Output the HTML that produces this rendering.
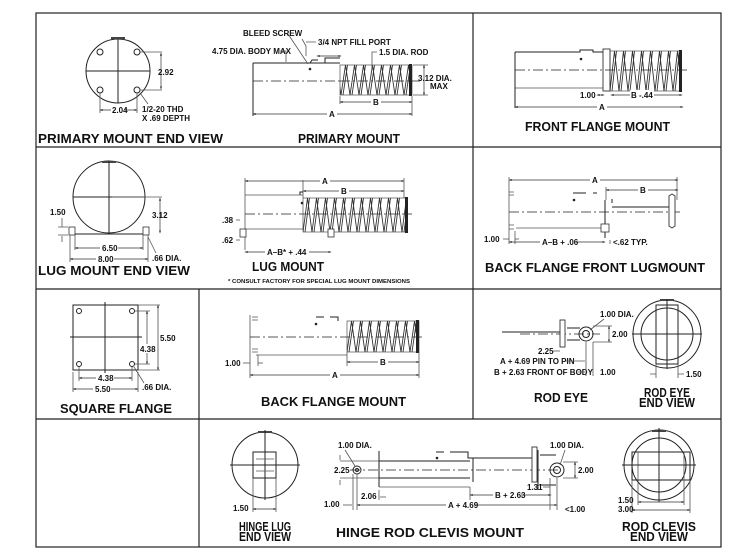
<!DOCTYPE html>
<html><head><meta charset="utf-8"><style>
html,body{margin:0;padding:0;background:#fff;}
svg{display:block;}
text{font-family:"Liberation Sans Narrow","Liberation Sans",sans-serif;font-weight:bold;fill:#111;}
.l{font-size:8px;}
.t{font-family:"Liberation Sans",sans-serif;font-size:12.5px;font-weight:900;}
.k{stroke:#222;fill:none;stroke-width:1;}
.g{stroke:#555;fill:none;stroke-width:0.8;}
.c{stroke:#222;fill:none;stroke-width:0.8;stroke-dasharray:10,3,2,3;}
.d{stroke:#333;stroke-width:0.7;fill:none;marker-start:url(#a);marker-end:url(#a);}
</style></head><body>
<svg width="738" height="560" viewBox="0 0 738 560" xmlns="http://www.w3.org/2000/svg">
<defs>
<marker id="a" viewBox="0 0 10 10" refX="5" refY="5" markerWidth="5" markerHeight="5" orient="auto-start-reverse"><path d="M0,5 L10,2 L10,8 Z" fill="#333" transform="rotate(180 5 5)"/></marker>
<pattern id="s1" patternUnits="userSpaceOnUse" x="341" y="65" width="9" height="30"><path d="M0,30 L4.5,0 L9,30 M2,30 L6.5,0" stroke="#333" stroke-width="0.9" fill="none"/></pattern>
<pattern id="s2" patternUnits="userSpaceOnUse" x="610" y="51" width="9" height="40"><path d="M0,40 L4.5,0 L9,40 M2,40 L6.5,0" stroke="#333" stroke-width="0.9" fill="none"/></pattern>
<pattern id="s3" patternUnits="userSpaceOnUse" x="303" y="198" width="9" height="34"><path d="M0,34 L4.5,0 L9,34 M2,34 L6.5,0" stroke="#333" stroke-width="0.9" fill="none"/></pattern>
<pattern id="s4" patternUnits="userSpaceOnUse" x="347" y="321" width="9" height="31"><path d="M0,31 L4.5,0 L9,31 M2,31 L6.5,0" stroke="#333" stroke-width="0.9" fill="none"/></pattern>
</defs>

<!-- grid -->
<rect x="36" y="13" width="685" height="534" fill="none" stroke="#222" stroke-width="1.2"/>
<line x1="36" y1="147" x2="721" y2="147" stroke="#222" stroke-width="1.2"/>
<line x1="36" y1="289" x2="721" y2="289" stroke="#222" stroke-width="1.2"/>
<line x1="36" y1="419" x2="721" y2="419" stroke="#222" stroke-width="1.2"/>
<line x1="473" y1="13" x2="473" y2="419" stroke="#222" stroke-width="1.2"/>
<line x1="199" y1="289" x2="199" y2="547" stroke="#222" stroke-width="1.2"/>

<!-- PRIMARY MOUNT END VIEW -->
<circle class="k" cx="118" cy="71" r="32"/>
<rect x="111" y="37" width="14" height="2" fill="#444"/>
<line class="k" x1="86" y1="71" x2="150" y2="71"/><line class="k" x1="118" y1="39" x2="118" y2="103"/>
<circle class="k" cx="100" cy="52" r="3"/><circle class="k" cx="137" cy="52" r="3"/>
<circle class="k" cx="100" cy="90" r="3"/><circle class="k" cx="137" cy="90" r="3"/>
<path class="g" d="M140,52 H162 M140,90 H162 M100,93 V113 M137,93 V113"/>
<line class="d" x1="161" y1="54" x2="161" y2="88"/>
<text class="l" x="158" y="75">2.92</text>
<line class="d" x1="101" y1="110" x2="136" y2="110"/>
<rect x="111" y="106" width="14" height="8" fill="#fff"/>
<text class="l" x="112" y="113">2.04</text>
<line class="g" x1="140" y1="93" x2="148" y2="104"/>
<text class="l" x="142" y="112">1/2-20 THD</text>
<text class="l" x="142" y="121">X .69 DEPTH</text>
<text class="t" x="38" y="143" textLength="185" lengthAdjust="spacingAndGlyphs">PRIMARY MOUNT END VIEW</text>

<!-- PRIMARY MOUNT -->
<line class="k" x1="253" y1="63" x2="340" y2="63"/>
<line class="k" x1="253" y1="63" x2="253" y2="116"/>
<line class="c" x1="253" y1="81" x2="340" y2="81"/>
<path class="k" d="M310,63 L312,60 H318 M325,63 V58 H340"/>
<circle cx="310" cy="69" r="1.3" fill="#222"/>
<rect x="340" y="65" width="72" height="30" fill="url(#s1)" stroke="#333" stroke-width="0.6"/>
<rect x="409" y="64" width="3" height="32" fill="#222"/>
<line class="c" x1="340" y1="81" x2="420" y2="81"/>
<path class="g" d="M413,65 H428 M413,95 H428 M412,96 V116 M340,96 V104"/>
<line class="d" x1="424" y1="66" x2="424" y2="94"/>
<text class="l" x="418" y="81">3.12 DIA.</text><text class="l" x="430" y="89">MAX</text>
<line class="d" x1="341" y1="102" x2="411" y2="102"/>
<rect x="371" y="97" width="10" height="9" fill="#fff"/><text class="l" x="373" y="105">B</text>
<line class="d" x1="254" y1="114" x2="411" y2="114"/>
<rect x="327" y="109" width="10" height="9" fill="#fff"/><text class="l" x="329" y="117">A</text>
<text class="l" x="243" y="36">BLEED SCREW</text>
<line class="g" x1="288" y1="34" x2="308" y2="64"/>
<path class="g" d="M302,39 L306,46 V56 M306,42 H316"/>
<text class="l" x="318" y="45">3/4 NPT FILL PORT</text>
<line class="d" x1="318" y1="56" x2="340" y2="56"/>
<text class="l" x="212" y="54">4.75 DIA. BODY MAX</text>
<path class="g" d="M280,51 H286 V62"/>
<text class="l" x="379" y="55">1.5 DIA. ROD</text>
<path class="g" d="M377,52 H372 V68"/>
<text class="t" x="298" y="143" textLength="102" lengthAdjust="spacingAndGlyphs">PRIMARY MOUNT</text>

<!-- FRONT FLANGE MOUNT -->
<path class="k" d="M515,52 H580 V50 H593 V52 H603"/>
<line class="g" x1="515" y1="88" x2="603" y2="88"/>
<line class="k" x1="515" y1="52" x2="515" y2="108"/>
<circle cx="581" cy="59" r="1.3" fill="#222"/>
<rect x="603" y="49" width="7" height="42" fill="#fff" stroke="#333" stroke-width="0.9"/>
<rect x="610" y="51" width="71" height="40" fill="url(#s2)" stroke="#333" stroke-width="0.6"/>
<rect x="679" y="50" width="3" height="42" fill="#222"/>
<line class="c" x1="515" y1="70" x2="688" y2="70"/>
<text class="l" x="580" y="98">1.00</text>
<line class="d" x1="598" y1="95" x2="603" y2="95"/>
<line class="d" x1="612" y1="95" x2="681" y2="95"/>
<rect x="630" y="90" width="24" height="9" fill="#fff"/><text class="l" x="631" y="98">B -.44</text>
<line class="d" x1="516" y1="107" x2="682" y2="107"/>
<rect x="597" y="102" width="10" height="9" fill="#fff"/><text class="l" x="599" y="110">A</text>
<text class="t" x="525" y="131" textLength="145" lengthAdjust="spacingAndGlyphs">FRONT FLANGE MOUNT</text>

<!-- LUG MOUNT END VIEW -->
<circle class="k" cx="109" cy="197" r="36"/>
<rect x="102" y="161" width="14" height="2" fill="#444"/>
<line class="k" x1="73" y1="197" x2="145" y2="197"/><line class="k" x1="109" y1="161" x2="109" y2="233"/>
<line class="k" x1="70" y1="234" x2="148" y2="234"/>
<rect x="69" y="227" width="6" height="8" fill="#fff" stroke="#333" stroke-width="0.8"/>
<rect x="143" y="227" width="6" height="8" fill="#fff" stroke="#333" stroke-width="0.8"/>
<path class="g" d="M112,197 H162 M70,235 V262 M148,235 V262 M75,235 V250 M143,235 V250 M58,227 H68 M58,235 H68"/>
<line class="d" x1="160" y1="199" x2="160" y2="232"/>
<text class="l" x="152" y="218">3.12</text>
<text class="l" x="50" y="215">1.50</text>
<line class="g" x1="62" y1="218" x2="62" y2="227"/><line class="g" x1="62" y1="236" x2="62" y2="242"/>
<line class="d" x1="76" y1="248" x2="142" y2="248"/>
<rect x="100" y="243" width="18" height="9" fill="#fff"/><text class="l" x="102" y="251">6.50</text>
<line class="d" x1="71" y1="259" x2="147" y2="259"/>
<rect x="96" y="254" width="18" height="9" fill="#fff"/><text class="l" x="98" y="262">8.00</text>
<line class="g" x1="148" y1="237" x2="156" y2="253"/>
<text class="l" x="152" y="261">.66 DIA.</text>
<text class="t" x="38" y="275" textLength="152" lengthAdjust="spacingAndGlyphs">LUG MOUNT END VIEW</text>

<!-- LUG MOUNT -->
<line class="d" x1="246" y1="181" x2="403" y2="181"/>
<rect x="320" y="176" width="10" height="9" fill="#fff"/><text class="l" x="322" y="184">A</text>
<line class="d" x1="304" y1="191" x2="403" y2="191"/>
<rect x="339" y="186" width="10" height="9" fill="#fff"/><text class="l" x="341" y="194">B</text>
<path class="g" d="M245,178 V250 M303,180 V198 M404,178 V198 M245,195 H303 M245,229 H303"/>
<path class="k" d="M300,195 V192 H303"/>
<circle cx="302" cy="203" r="1.3" fill="#222"/>
<line class="c" x1="245" y1="214" x2="412" y2="214"/>
<rect x="303" y="198" width="104" height="34" fill="url(#s3)" stroke="#333" stroke-width="0.6"/>
<rect x="405" y="197" width="3" height="36" fill="#222"/>
<rect x="240" y="229" width="6" height="8" fill="#fff" stroke="#333" stroke-width="0.8"/>
<rect x="328" y="229" width="6" height="8" fill="#fff" stroke="#333" stroke-width="0.8"/>
<text class="l" x="222" y="223">.38</text><text class="l" x="222" y="243">.62</text>
<line class="g" x1="236" y1="220" x2="240" y2="220"/><line class="g" x1="236" y1="240" x2="240" y2="240"/>
<line class="d" x1="246" y1="252" x2="330" y2="252"/>
<rect x="265" y="247" width="44" height="9" fill="#fff"/><text class="l" x="267" y="255">A–B* + .44</text>
<text class="t" x="252" y="271" textLength="72" lengthAdjust="spacingAndGlyphs">LUG MOUNT</text>
<text x="228" y="283" style="font-size:5.5px" textLength="182" lengthAdjust="spacingAndGlyphs">* CONSULT FACTORY FOR SPECIAL LUG MOUNT DIMENSIONS</text>

<!-- BACK FLANGE FRONT LUGMOUNT -->
<line class="d" x1="510" y1="180" x2="677" y2="180"/>
<rect x="590" y="175" width="10" height="9" fill="#fff"/><text class="l" x="592" y="183">A</text>
<line class="d" x1="607" y1="190" x2="677" y2="190"/>
<rect x="638" y="185" width="10" height="9" fill="#fff"/><text class="l" x="640" y="193">B</text>
<path class="g" d="M509,177 V244 M677,177 V200 M606,187 V200"/>
<path class="g" d="M509,192 H514 M509,195 H514 M509,225 H514 M509,229 H514 M516,228 H604"/>
<path class="k" d="M573,193 H586 M593,193 H597 M605,200 V238 M612,199 V203"/>
<circle cx="574" cy="200" r="1.3" fill="#222"/>
<line class="k" x1="612" y1="207" x2="670" y2="207"/>
<line class="c" x1="509" y1="212" x2="680" y2="212"/>
<path d="M669,196 L672,194 L675,196 V226 L672,228 L669,226 Z" fill="#fff" stroke="#333" stroke-width="0.9"/>
<rect x="601" y="224" width="8" height="8" fill="#fff" stroke="#333" stroke-width="0.8"/>
<text class="l" x="484" y="242">1.00</text>
<line class="g" x1="503" y1="239" x2="509" y2="239"/><line class="g" x1="515" y1="239" x2="519" y2="239"/><line class="g" x1="515" y1="231" x2="515" y2="244"/>
<line class="d" x1="510" y1="242" x2="604" y2="242"/>
<rect x="540" y="237" width="36" height="9" fill="#fff"/><text class="l" x="542" y="245">A–B + .06</text>
<line class="g" x1="610" y1="240" x2="610" y2="244"/>
<text class="l" x="613" y="245">&lt;.62 TYP.</text>
<text class="t" x="485" y="272" textLength="220" lengthAdjust="spacingAndGlyphs">BACK FLANGE FRONT LUGMOUNT</text>

<!-- SQUARE FLANGE -->
<rect class="k" x="73" y="305" width="65" height="65"/>
<line class="k" x1="70" y1="337" x2="142" y2="337"/><line class="k" x1="105" y1="302" x2="105" y2="373"/>
<circle class="k" cx="79" cy="311" r="2.5"/><circle class="k" cx="132" cy="311" r="2.5"/>
<circle class="k" cx="79" cy="364" r="2.5"/><circle class="k" cx="132" cy="364" r="2.5"/>
<path class="g" d="M135,311 H150 M135,364 H150 M138,305 H160 M138,370 H160 M79,367 V381 M132,367 V381 M73,372 V392 M138,372 V392"/>
<line class="d" x1="147" y1="312" x2="147" y2="363"/>
<rect x="140" y="344" width="16" height="9" fill="#fff"/><text class="l" x="140" y="352">4.38</text>
<line class="d" x1="158" y1="306" x2="158" y2="369"/>
<text class="l" x="160" y="341">5.50</text>
<line class="d" x1="80" y1="378" x2="131" y2="378"/>
<rect x="96" y="373" width="18" height="9" fill="#fff"/><text class="l" x="98" y="381">4.38</text>
<line class="d" x1="74" y1="389" x2="137" y2="389"/>
<rect x="93" y="384" width="18" height="9" fill="#fff"/><text class="l" x="95" y="392">5.50</text>
<line class="g" x1="134" y1="367" x2="144" y2="383"/>
<text class="l" x="142" y="390">.66 DIA.</text>
<text class="t" x="60" y="413" textLength="112" lengthAdjust="spacingAndGlyphs">SQUARE FLANGE</text>

<!-- BACK FLANGE MOUNT -->
<path class="g" d="M250,315 V378 M252,317 H258 M252,320 H258 M252,349 H258 M252,352 H258 M256,355 H347"/>
<path class="k" d="M316,317 H324 M330,317 H338 V321"/>
<circle cx="316" cy="324" r="1.3" fill="#222"/>
<line class="c" x1="250" y1="337" x2="424" y2="337"/>
<rect x="347" y="321" width="72" height="31" fill="url(#s4)" stroke="#333" stroke-width="0.6"/>
<rect x="416" y="320" width="3" height="33" fill="#222"/>
<path class="g" d="M347,352 V366 M419,352 V378 M258,355 V366"/>
<text class="l" x="225" y="366">1.00</text>
<line class="g" x1="243" y1="363" x2="250" y2="363"/><line class="g" x1="258" y1="363" x2="263" y2="363"/>
<line class="d" x1="348" y1="362" x2="418" y2="362"/>
<rect x="378" y="357" width="10" height="9" fill="#fff"/><text class="l" x="380" y="365">B</text>
<line class="d" x1="251" y1="375" x2="418" y2="375"/>
<rect x="330" y="370" width="10" height="9" fill="#fff"/><text class="l" x="332" y="378">A</text>
<text class="t" x="261" y="406" textLength="145" lengthAdjust="spacingAndGlyphs">BACK FLANGE MOUNT</text>

<!-- ROD EYE -->
<line class="k" x1="502" y1="332" x2="560" y2="332"/>
<line class="c" x1="520" y1="334" x2="600" y2="334"/>
<rect x="560" y="320" width="5" height="27" fill="#fff" stroke="#333" stroke-width="0.9"/>
<path class="k" d="M567,328 H580 M567,340 H580"/>
<circle class="k" cx="586" cy="334" r="7"/><circle class="k" cx="586" cy="334" r="3.5"/>
<text class="l" x="600" y="317">1.00 DIA.</text>
<line class="g" x1="604" y1="319" x2="590" y2="330"/>
<path class="g" d="M593,326 H612 M593,342 H612"/>
<line class="d" x1="609" y1="327" x2="609" y2="341"/>
<text class="l" x="612" y="337">2.00</text>
<text class="l" x="538" y="354">2.25</text><line class="g" x1="553" y1="351" x2="560" y2="351"/>
<text class="l" x="500" y="364">A + 4.69 PIN TO PIN</text><line class="g" x1="566" y1="361" x2="585" y2="361"/>
<text class="l" x="494" y="375">B + 2.63 FRONT OF BODY</text><line class="g" x1="578" y1="372" x2="585" y2="372"/>
<path class="g" d="M586,342 V376 M593,342 V376"/>
<text class="l" x="600" y="375">1.00</text>
<text class="t" x="534" y="402" textLength="54" lengthAdjust="spacingAndGlyphs">ROD EYE</text>

<!-- ROD EYE END VIEW -->
<circle class="k" cx="667" cy="334" r="34"/><circle class="k" cx="667" cy="334" r="26"/>
<rect x="660" y="299" width="14" height="2" fill="#444"/>
<rect class="k" x="656" y="305" width="22" height="59"/>
<line class="k" x1="632" y1="334" x2="702" y2="334"/><line class="k" x1="667" y1="299" x2="667" y2="369"/>
<path class="g" d="M656,364 V378 M678,364 V378 M650,374 H656 M678,374 H684"/>
<text class="l" x="686" y="377">1.50</text>
<text class="t" x="644" y="397" textLength="46" lengthAdjust="spacingAndGlyphs">ROD EYE</text>
<text class="t" x="639" y="407" textLength="56" lengthAdjust="spacingAndGlyphs">END VIEW</text>

<!-- HINGE LUG END VIEW -->
<circle class="k" cx="265" cy="465" r="33"/>
<rect x="258" y="431" width="14" height="2" fill="#444"/>
<rect class="k" x="253" y="452" width="23" height="26"/>
<line class="k" x1="230" y1="465" x2="300" y2="465"/><line class="k" x1="265" y1="430" x2="265" y2="500"/>
<path class="g" d="M256,459 H274 M256,471 H274 M253,478 V512 M276,478 V512"/>
<line class="d" x1="254" y1="509" x2="275" y2="509"/>
<text class="l" x="233" y="511">1.50</text>
<text class="t" x="239" y="531" textLength="52" lengthAdjust="spacingAndGlyphs">HINGE LUG</text>
<text class="t" x="239" y="541" textLength="52" lengthAdjust="spacingAndGlyphs">END VIEW</text>

<!-- HINGE ROD CLEVIS MOUNT -->
<path class="k" d="M379,461 H470 M379,478 H470 M379,451 V487"/>
<path class="k" d="M436,452 H444 M450,452 H468 V458 H473 V482"/>
<circle cx="437" cy="458" r="1.3" fill="#222"/>
<line class="k" x1="473" y1="458" x2="532" y2="458"/>
<line class="c" x1="350" y1="470" x2="560" y2="470"/>
<circle class="k" cx="357" cy="470" r="4"/><circle class="k" cx="357" cy="470" r="1.5"/>
<path class="g" d="M340,461 H379 M340,478 H379 M379,487 H470"/>
<text class="l" x="338" y="448">1.00 DIA.</text><line class="g" x1="345" y1="450" x2="355" y2="466"/>
<text class="l" x="334" y="473">2.25</text>
<line class="g" x1="340" y1="455" x2="340" y2="460"/><line class="g" x1="340" y1="480" x2="340" y2="485"/>
<path class="g" d="M353,474 V510 M357,474 V510 M470,487 V510"/>
<text class="l" x="361" y="499">2.06</text><line class="g" x1="379" y1="490" x2="379" y2="500"/><line class="g" x1="380" y1="497" x2="386" y2="497"/>
<text class="l" x="324" y="507">1.00</text><line class="g" x1="343" y1="505" x2="352" y2="505"/>
<line class="d" x1="358" y1="505" x2="556" y2="505"/>
<rect x="446" y="500" width="28" height="9" fill="#fff"/><text class="l" x="448" y="508">A + 4.69</text>
<line class="d" x1="471" y1="495" x2="550" y2="495"/>
<rect x="493" y="490" width="28" height="9" fill="#fff"/><text class="l" x="495" y="498">B + 2.63</text>
<rect x="532" y="447" width="5" height="35" fill="#fff" stroke="#333" stroke-width="0.9"/>
<path class="k" d="M538,450 V490 M540,455 H556 M540,485 H556"/>
<circle class="k" cx="557" cy="470" r="7"/><circle class="k" cx="557" cy="470" r="3.5"/>
<text class="l" x="550" y="448">1.00 DIA.</text><line class="g" x1="565" y1="450" x2="560" y2="465"/>
<path class="g" d="M563,462 H578 M563,478 H578"/>
<line class="d" x1="575" y1="463" x2="575" y2="477"/>
<text class="l" x="578" y="473">2.00</text>
<text class="l" x="527" y="490">1.31</text><line class="g" x1="543" y1="487" x2="550" y2="487"/>
<path class="g" d="M550,478 V510 M557,478 V510"/>
<text class="l" x="565" y="512">&lt;1.00</text>
<text class="t" x="336" y="537" textLength="188" lengthAdjust="spacingAndGlyphs">HINGE ROD CLEVIS MOUNT</text>

<!-- ROD CLEVIS END VIEW -->
<circle class="k" cx="659" cy="465" r="35"/><circle class="k" cx="659" cy="465" r="27"/>
<rect x="652" y="430" width="14" height="2" fill="#444"/>
<rect class="k" x="632" y="452" width="58" height="28"/>
<path class="g" d="M638,452 V480 M684,452 V480"/>
<line class="k" x1="622" y1="465" x2="696" y2="465"/><line class="k" x1="659" y1="428" x2="659" y2="502"/>
<path class="g" d="M638,480 V505 M684,480 V505 M632,480 V513 M690,480 V513"/>
<line class="d" x1="639" y1="502" x2="683" y2="502"/>
<line class="d" x1="633" y1="510" x2="689" y2="510"/>
<text class="l" x="618" y="503">1.50</text><text class="l" x="618" y="512">3.00</text>
<text class="t" x="622" y="531" textLength="74" lengthAdjust="spacingAndGlyphs">ROD CLEVIS</text>
<text class="t" x="630" y="541" textLength="58" lengthAdjust="spacingAndGlyphs">END VIEW</text>
</svg>
</body></html>
